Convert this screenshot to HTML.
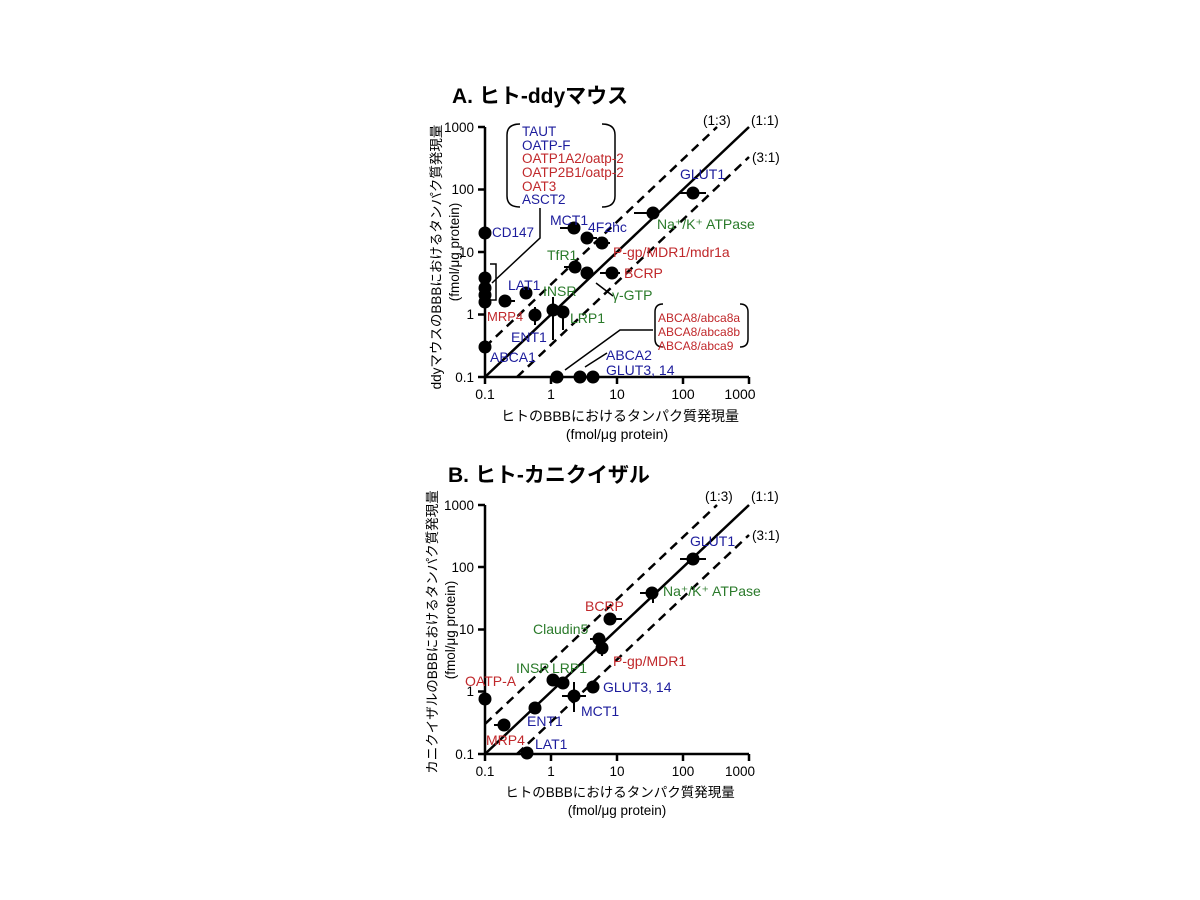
<!DOCTYPE html>
<html><head><meta charset="utf-8"><style>
body{margin:0;background:#fff}
svg{display:block}
text{font-family:"Liberation Sans","Noto Sans CJK JP",sans-serif}
.b{fill:#1c1c9c}.r{fill:#c0282b}.g{fill:#2a7a2a}
.t{font-size:13.5px;fill:#000}
</style></head><body>
<svg width="1200" height="900" xmlns="http://www.w3.org/2000/svg">
<!-- ===== Plot A ===== -->
<text x="452" y="103" font-size="21" font-weight="bold">A. ヒト-ddyマウス</text>
<g stroke="#000" stroke-width="2.5" fill="none">
<path d="M485,127 V377 H749"/>
<path d="M478,127H485M478,189.5H485M478,252H485M478,314.5H485M478,377H485"/>
<path d="M485,377V384M551,377V384M617,377V384M683,377V384M749,377V384"/>
<path d="M485,377L749,127"/>
<path d="M485,347L717,127" stroke-dasharray="9,6"/>
<path d="M517,377L749,157" stroke-dasharray="9,6"/>
</g>
<g class="t" text-anchor="end" font-size="14">
<text x="474" y="132">1000</text><text x="474" y="194">100</text><text x="474" y="257">10</text><text x="474" y="319">1</text><text x="474" y="382">0.1</text>
</g>
<g class="t" text-anchor="middle">
<text x="485" y="399" font-size="14">0.1</text><text x="551" y="399" font-size="14">1</text><text x="617" y="399" font-size="14">10</text><text x="683" y="399" font-size="14">100</text><text x="740" y="399" font-size="14">1000</text>
<text x="620" y="421" font-size="14">ヒトのBBBにおけるタンパク質発現量</text>
<text x="617" y="439" font-size="14">(fmol/μg protein)</text>
</g>
<text class="t" font-size="14.5" transform="translate(441,257) rotate(-90)" text-anchor="middle">ddyマウスのBBBにおけるタンパク質発現量</text>
<text class="t" font-size="14" transform="translate(459,252) rotate(-90)" text-anchor="middle">(fmol/μg protein)</text>
<g class="t"><text x="703" y="125">(1:3)</text><text x="751" y="125">(1:1)</text><text x="752" y="162">(3:1)</text></g>
<g stroke="#000" stroke-width="2" fill="none">
<path d="M680,193H706M653,213H634M574,228H560M587,238H597M602,243H610M575,267H564M612,273H600M620,273H612M505,301H515M535,315V307M535,315V325M553,310V297M553,310V340M563,312V330M485,233V240"/>
</g>
<g fill="#000">
<circle cx="693" cy="193" r="6.5"/><circle cx="653" cy="213" r="6.5"/><circle cx="574" cy="228" r="6.5"/><circle cx="587" cy="238" r="6.5"/><circle cx="602" cy="243" r="6.5"/><circle cx="575" cy="267" r="6.5"/><circle cx="587" cy="273" r="6.5"/><circle cx="612" cy="273" r="6.5"/>
<circle cx="485" cy="233" r="6.5"/><circle cx="485" cy="278" r="6.5"/><circle cx="485" cy="288" r="6.5"/><circle cx="485" cy="295" r="6.5"/><circle cx="485" cy="302" r="6.5"/>
<circle cx="505" cy="301" r="6.5"/><circle cx="526" cy="293" r="6.5"/><circle cx="535" cy="315" r="6.5"/><circle cx="553" cy="310" r="6.5"/><circle cx="563" cy="312" r="6.5"/><circle cx="485" cy="347" r="6.5"/>
<circle cx="557" cy="377" r="6.5"/><circle cx="580" cy="377" r="6.5"/><circle cx="593" cy="377" r="6.5"/>
</g>
<g stroke="#000" stroke-width="1.5" fill="none">
<path d="M520,124Q507,124 507,135V196Q507,207 520,207"/>
<path d="M602,124Q615,124 615,135V196Q615,207 602,207"/>
<path d="M540,208V238L492,283"/>
<path d="M490,264H496V300H490"/>
<path d="M663,304Q655,304 655,312V339Q655,347 663,347"/>
<path d="M740,304Q748,304 748,312V339Q748,347 740,347"/>
<path d="M653,330H620L565,370M607,353L585,367M596,283L613,296"/>
</g>
<g class="t" font-size="11">
<text x="522" y="136" class="b">TAUT</text><text x="522" y="150" class="b">OATP-F</text><text x="522" y="163" class="r">OATP1A2/oatp-2</text><text x="522" y="177" class="r">OATP2B1/oatp-2</text><text x="522" y="191" class="r">OAT3</text><text x="522" y="204" class="b">ASCT2</text>
<text x="492" y="237" class="b">CD147</text>
<text x="658" y="322" class="r" font-size="12">ABCA8/abca8a</text><text x="658" y="336" class="r" font-size="12">ABCA8/abca8b</text><text x="658" y="350" class="r" font-size="12">ABCA8/abca9</text>
</g>
<g font-size="14">
<text x="680" y="179" class="b">GLUT1</text><text x="657" y="229" class="g">Na⁺/K⁺ ATPase</text>
<text x="550" y="225" class="b">MCT1</text><text x="588" y="232" class="b">4F2hc</text>
<text x="613" y="257" class="r">P-gp/MDR1/mdr1a</text><text x="547" y="260" class="g">TfR1</text>
<text x="624" y="278" class="r">BCRP</text><text x="612" y="300" class="g">γ-GTP</text>
<text x="508" y="290" class="b">LAT1</text><text x="543" y="296" class="g">INSR</text>
<text x="487" y="321" class="r" font-size="13">MRP4</text><text x="570" y="323" class="g">LRP1</text>
<text x="511" y="342" class="b">ENT1</text><text x="490" y="362" class="b">ABCA1</text>
<text x="606" y="360" class="b">ABCA2</text><text x="606" y="375" class="b">GLUT3, 14</text>
</g>

<!-- ===== Plot B ===== -->
<text x="448" y="482" font-size="21" font-weight="bold">B. ヒト-カニクイザル</text>
<g stroke="#000" stroke-width="2.5" fill="none">
<path d="M485,505 V754 H749"/>
<path d="M478,505H485M478,567H485M478,629.5H485M478,691.5H485M478,754H485"/>
<path d="M485,754V761M551,754V761M617,754V761M683,754V761M749,754V761"/>
<path d="M485,754L749,505"/>
<path d="M485,724L717,505" stroke-dasharray="9,6"/>
<path d="M517,754L749,535" stroke-dasharray="9,6"/>
</g>
<g class="t" text-anchor="end" font-size="14">
<text x="474" y="510">1000</text><text x="474" y="572">100</text><text x="474" y="634">10</text><text x="474" y="696">1</text><text x="474" y="759">0.1</text>
</g>
<g class="t" text-anchor="middle" font-size="14">
<text x="485" y="776">0.1</text><text x="551" y="776">1</text><text x="617" y="776">10</text><text x="683" y="776">100</text><text x="740" y="776">1000</text>
<text x="620" y="797">ヒトのBBBにおけるタンパク質発現量</text>
<text x="617" y="815">(fmol/μg protein)</text>
</g>
<text class="t" font-size="14.5" transform="translate(437,632) rotate(-90)" text-anchor="middle">カニクイザルのBBBにおけるタンパク質発現量</text>
<text class="t" font-size="14" transform="translate(455,630) rotate(-90)" text-anchor="middle">(fmol/μg protein)</text>
<g class="t"><text x="705" y="501">(1:3)</text><text x="751" y="501">(1:1)</text><text x="752" y="540">(3:1)</text></g>
<g stroke="#000" stroke-width="2" fill="none">
<path d="M680,559H706M653,593H640M653,593V603M610,619H622M599,639H590M602,648V656M574,696H562M574,696H586M574,696V682M574,696V712M504,725H494"/>
</g>
<g fill="#000">
<circle cx="693" cy="559" r="6.5"/><circle cx="652" cy="593" r="6.5"/><circle cx="610" cy="619" r="6.5"/><circle cx="599" cy="639" r="6.5"/><circle cx="602" cy="648" r="6.5"/>
<circle cx="553" cy="680" r="6.5"/><circle cx="563" cy="683" r="6.5"/><circle cx="593" cy="687" r="6.5"/><circle cx="574" cy="696" r="6.5"/><circle cx="485" cy="699" r="6.5"/><circle cx="535" cy="708" r="6.5"/><circle cx="504" cy="725" r="6.5"/><circle cx="527" cy="753" r="6.5"/>
</g>
<g font-size="14">
<text x="690" y="546" class="b">GLUT1</text><text x="663" y="596" class="g">Na⁺/K⁺ ATPase</text>
<text x="585" y="611" class="r">BCRP</text><text x="533" y="634" class="g">Claudin5</text>
<text x="613" y="666" class="r">P-gp/MDR1</text><text x="516" y="673" class="g">INSR</text><text x="552" y="673" class="g">LRP1</text>
<text x="465" y="686" class="r">OATP-A</text><text x="603" y="692" class="b">GLUT3, 14</text>
<text x="581" y="716" class="b">MCT1</text><text x="527" y="726" class="b">ENT1</text>
<text x="486" y="745" class="r">MRP4</text><text x="535" y="749" class="b">LAT1</text>
</g>
</svg>
</body></html>
